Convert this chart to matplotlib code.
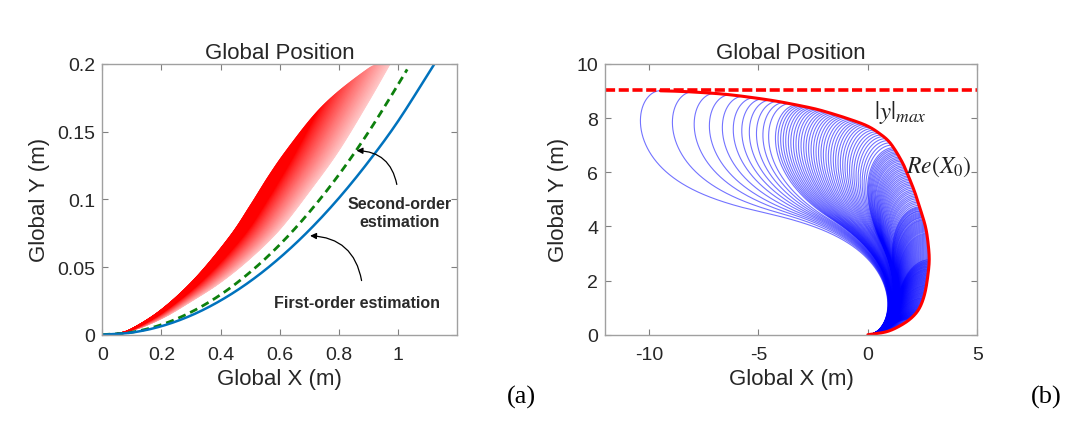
import numpy as np
import matplotlib.pyplot as plt
from matplotlib.patches import Polygon

plt.rcParams['font.family'] = ['Liberation Sans', 'DejaVu Sans']
plt.rcParams['mathtext.fontset'] = 'stix'
plt.rcParams['axes.unicode_minus'] = False

# ---------------- panel (a) ----------------
# outline of the red fan (left edge going up, then right edge)
FAN_LEFT_X = [0, 0.05, 0.1, 0.2, 0.313, 0.43, 0.5, 0.56, 0.62, 0.713, 0.792, 0.893, 0.927]
FAN_LEFT_Y = [0, 0.0012, 0.0048, 0.019, 0.042, 0.073, 0.096, 0.117, 0.136, 0.162, 0.179, 0.196, 0.2]
FAN_RIGHT_X = [0, 0.1, 0.2, 0.3, 0.4, 0.5, 0.6, 0.7, 0.8, 0.9, 0.974]
FAN_RIGHT_Y = [0, 0.003, 0.0116, 0.0243, 0.0384, 0.056, 0.0774, 0.1054, 0.1357, 0.1717, 0.2]
# steepest (darkest) red curve, which runs out through the fan's upper edge
STEEP_X = [0, 0.05, 0.1, 0.2, 0.313, 0.43, 0.5, 0.56, 0.62, 0.69, 0.74]
STEEP_Y = [0, 0.0012, 0.0048, 0.019, 0.042, 0.073, 0.098, 0.122, 0.148, 0.178, 0.2]
N_FAN = 90

FIRST_X = [0, 0.1, 0.2, 0.3, 0.4, 0.5, 0.6, 0.7, 0.8, 0.9, 1.0, 1.122]
FIRST_Y = [0, 0.0016, 0.0063, 0.0142, 0.0253, 0.0395, 0.0569, 0.0774, 0.1011, 0.128, 0.158, 0.2]
SECOND_X = [0, 0.1, 0.2, 0.3, 0.4, 0.5, 0.6, 0.7, 0.8, 0.9, 1.0, 1.03]
SECOND_Y = [0, 0.00185, 0.0074, 0.0167, 0.0296, 0.0463, 0.0666, 0.0907, 0.1184, 0.1499, 0.185, 0.196]

# ---------------- panel (b) ----------------
REACH_X = [0, 0.56, 1.0, 1.47, 1.9, 2.23, 2.45, 2.62, 2.74, 2.8, 2.76, 2.64, 2.4, 2.16, 1.88,
           1.55, 1.02, 0.5, -0.05, -0.8, -1.57, -2.3, -3.09, -4.2, -5.37, -6.5, -7.65, -8.6, -9.47]
REACH_Y = [0, 0.06, 0.15, 0.33, 0.56, 0.83, 1.15, 1.6, 2.2, 2.75, 3.29, 3.95, 4.62, 5.22, 5.8,
           6.4, 7.08, 7.45, 7.72, 7.95, 8.15, 8.32, 8.46, 8.63, 8.77, 8.88, 8.95, 8.99, 9.01]
Y_MAX = 9.05
# end points of the widest, clearly separated loops
FAR_END_X = [-9.47, -8.0, -7.0, -6.3, -5.7, -5.2, -4.8, -4.45, -4.12, -3.82, -3.55]
# how many of the remaining trajectories end on each stretch of the boundary
# (distance along the boundary from the origin)
NEAR_STRETCH = [0.05, 2.0, 4.5, 6.5, 9.0]
NEAR_COUNT = [40, 110, 55, 40, 40]
TAU = 2.17


def smooth(xs, ys, n=24):
    # Catmull-Rom spline through the read points
    p = np.column_stack([xs, ys]).astype(float)
    p = np.vstack([2 * p[0] - p[1], p, 2 * p[-1] - p[-2]])
    t = np.linspace(0, 1, n, endpoint=False)[:, None]
    out = []
    for i in range(1, len(p) - 2):
        p0, p1, p2, p3 = p[i - 1], p[i], p[i + 1], p[i + 2]
        out.append(0.5 * (2 * p1 + (p2 - p0) * t + (2 * p0 - 5 * p1 + 4 * p2 - p3) * t ** 2
                          + (3 * p1 - p0 - 3 * p2 + p3) * t ** 3))
    out.append(p[-2][None, :])
    out = np.vstack(out)
    return out[:, 0], out[:, 1]


fig = plt.figure(figsize=(10.8, 4.27), dpi=100)
ax1 = fig.add_axes([0.0947, 0.2138, 0.3289, 0.6340])
ax2 = fig.add_axes([0.5602, 0.2138, 0.3448, 0.6340])

# --- (a) fan of red curves
sx, sy = smooth(STEEP_X, STEEP_Y)
fx, fy = smooth(FAN_RIGHT_X, FAN_RIGHT_Y)
lx, ly = smooth(FAN_LEFT_X, FAN_LEFT_Y)
yy = 0.2 * np.linspace(0, 1, 500) ** 2
xa = np.interp(yy, sy, sx)
xr = np.interp(yy, fy, fx)
outline = np.column_stack([np.concatenate([lx, [0.974], fx[::-1]]),
                           np.concatenate([ly, [0.2], fy[::-1]])])
clip = Polygon(outline, closed=True, transform=ax1.transData)
for w in np.linspace(1, 0, N_FAN):
    c = np.clip((w - 0.3) / 0.7, 0, 1) ** 0.8 * 0.8
    ln, = ax1.plot(xa + w * (xr - xa), yy, color=(1, c, c), lw=1.1)
    ln.set_clip_path(clip)

gx, gy = smooth(SECOND_X, SECOND_Y)
bx, by = smooth(FIRST_X, FIRST_Y)
ax1.plot(gx, gy, color=(0.05, 0.5, 0.05), lw=2.0, dashes=(2.9, 1.8))
ax1.plot(bx, by, color='#0072BD', lw=1.8)

arrow = dict(arrowstyle='-|>', color='k', lw=0.9, mutation_scale=9,
             connectionstyle='arc3,rad=0.4', shrinkA=0, shrinkB=0)
ax1.annotate('', xy=(0.859, 0.136), xytext=(0.995, 0.111), arrowprops=arrow)
ax1.annotate('', xy=(0.702, 0.0731), xytext=(0.876, 0.040), arrowprops=arrow)
ax1.text(1.006, 0.0905, 'Second-order\nestimation', ha='center', va='center',
         fontsize=11.5, fontweight='bold', color='#2a2a2a', linespacing=1.25)
ax1.text(0.859, 0.024, 'First-order estimation', ha='center', va='center',
         fontsize=11.5, fontweight='bold', color='#2a2a2a')

ax1.set_xlim(0, 1.2)
ax1.set_ylim(0, 0.2)
ax1.set_xticks([0, 0.2, 0.4, 0.6, 0.8, 1.0])
ax1.set_xticklabels(['0', '0.2', '0.4', '0.6', '0.8', '1'])
ax1.set_yticks([0, 0.05, 0.1, 0.15, 0.2])
ax1.set_yticklabels(['0', '0.05', '0.1', '0.15', '0.2'])
ax1.set_xlabel('Global X (m)')
ax1.set_ylabel('Global Y (m)')
ax1.set_title('Global Position')

# --- (b) trajectories ending on the reachable boundary
rx, ry = smooth(REACH_X, REACH_Y, n=16)
arc = np.concatenate([[0], np.cumsum(np.hypot(np.diff(rx), np.diff(ry)))])
top = int(np.argmax(rx))
far_arc = np.interp(FAR_END_X, rx[top:][::-1], arc[top:][::-1])
bounds = NEAR_STRETCH + [far_arc[-1] - 0.2]
near_arc = np.concatenate([np.linspace(bounds[k], bounds[k + 1], NEAR_COUNT[k], endpoint=False)
                           for k in range(len(NEAR_COUNT))])
ends_arc = np.concatenate([far_arc, near_arc[::-1]])

ds = 0.004
s = np.arange(0, 14, ds)


def half_path(theta_p):
    th = theta_p * (1 - np.exp(-s / TAU))
    c, sn = np.cos(th), np.sin(th)
    x = np.concatenate([[0], np.cumsum((c[1:] + c[:-1]) / 2 * ds)])
    y = np.concatenate([[0], np.cumsum((sn[1:] + sn[:-1]) / 2 * ds)])
    return x, y


def trajectory(ex, ey):
    mx, my = ex / 2, ey / 2
    r, phi = np.hypot(mx, my), np.arctan2(my, mx)
    lo, hi = 0.3, 3.6
    for _ in range(28):
        tp = (lo + hi) / 2
        x, y = half_path(tp)
        i = max(int(np.argmax(np.hypot(x, y) >= r)), 1)
        if np.arctan2(y[i], x[i]) < phi:
            lo = tp
        else:
            hi = tp
    x, y = x[:i + 1], y[:i + 1]
    return (np.concatenate([x, 2 * x[-1] - x[::-1]]),
            np.concatenate([y, 2 * y[-1] - y[::-1]]))


for a in ends_arc:
    tx, ty = trajectory(np.interp(a, arc, rx), np.interp(a, arc, ry))
    ax2.plot(tx, ty, color=(0, 0, 1), lw=0.8, alpha=0.55)

ax2.plot(rx, ry, color='red', lw=2.2, solid_capstyle='round')
ax2.axhline(Y_MAX, color='red', lw=2.6, dashes=(2.8, 1.0))
ax2.text(0.3, 8.26, r'$|y|_{max}$', fontsize=18, va='center', ha='left', color='#222222')
ax2.text(1.75, 6.25, r'$Re(X_0)$', fontsize=17, va='center', ha='left', color='#222222')

ax2.set_xlim(-12, 5)
ax2.set_ylim(0, 10)
ax2.set_xticks([-10, -5, 0, 5])
ax2.set_yticks([0, 2, 4, 6, 8, 10])
ax2.set_xlabel('Global X (m)')
ax2.set_ylabel('Global Y (m)')
ax2.set_title('Global Position')

for ax in (ax1, ax2):
    for sp in ax.spines.values():
        sp.set_color('#a0a0a0')
        sp.set_linewidth(1.0)
    ax.tick_params(direction='in', length=4, width=0.8, color='#808080',
                   top=True, right=True, labelsize=14, labelcolor='#262626')
    ax.tick_params(axis='x', pad=8)
    ax.tick_params(axis='y', pad=5)
    ax.xaxis.label.set_size(16)
    ax.yaxis.label.set_size(16)
    ax.xaxis.label.set_color('#262626')
    ax.yaxis.label.set_color('#262626')
    ax.yaxis.labelpad = 5
    ax.set_title(ax.get_title(), fontsize=16, color='#262626', pad=4)

fig.text(0.483, 0.070, '(a)', fontsize=19, family='Liberation Serif', ha='center', va='center')
fig.text(0.969, 0.070, '(b)', fontsize=19, family='Liberation Serif', ha='center', va='center')

fig.savefig('out.png', dpi=100)
